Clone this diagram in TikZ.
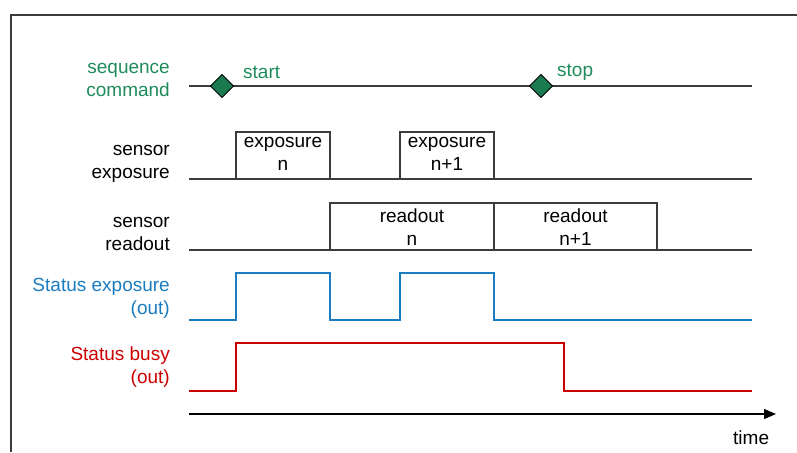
\documentclass[tikz,border=0pt]{standalone}
\usepackage{fontspec}
\setmainfont{Liberation Sans}
\usetikzlibrary{arrows.meta}
\definecolor{cmdgreen}{RGB}{30,140,90}
\definecolor{dmdgreen}{RGB}{26,122,80}
\definecolor{stblue}{RGB}{28,124,192}
\definecolor{stred}{RGB}{204,0,0}
\definecolor{lgray}{RGB}{60,60,60}
\tikzset{
  x=1pt,y=-1pt,
  every node/.style={font=\fontsize{19}{23}\selectfont},
  lab/.style={align=right,anchor=east,inner sep=0pt},
  tline/.style={draw=lgray,line width=1.1pt},
  sbox/.style={draw=lgray,line width=1.1pt,fill=white},
  btext/.style={align=center,anchor=north,inner sep=0pt},
  dmd/.style={draw=black,fill=dmdgreen,line width=0.8pt},
}
\begin{document}
\begin{tikzpicture}
\useasboundingbox (0,0) rectangle (797,452);
% frame
\draw[lgray,line width=1.2pt] (11,452) -- (11,15) -- (797,15);

% row labels
\node[lab,text=cmdgreen] (lseq) at (170,80) {sequence\\command};
\node[lab] (lexp) at (170,164) {sensor\\exposure};
\node[lab] (lrd) at (170,234) {sensor\\readout};
\node[lab,text=stblue] (lsx) at (170,298) {Status exposure\\(out)};
\node[lab,text=stred] (lsb) at (170,367) {Status busy\\(out)};

% sequence command
\coordinate (s0) at (189,86);
\coordinate (s1) at (752,86);
\draw[tline] (s0) -- (s1);
\path[dmd] (222,74.5) -- (233.5,86) -- (222,97.5) -- (210.5,86) -- cycle;
\path[dmd] (541,74.5) -- (552.5,86) -- (541,97.5) -- (529.5,86) -- cycle;
\node[text=cmdgreen,anchor=west,inner sep=0pt] (tstart) at (243,72) {start};
\node[text=cmdgreen,anchor=west,inner sep=0pt] (tstop) at (557,72) {stop};

% sensor exposure
\coordinate (e0) at (189,179);
\coordinate (e1) at (752,179);
\draw[tline] (e0) -- (e1);
\draw[sbox] (236,132) rectangle (330,179);
\draw[sbox] (400,132) rectangle (494,179);
\node[btext] (ex1) at (283,137.5) {exposure\\n};
\node[btext] (ex2) at (447,137.5) {exposure\\n+1};

% sensor readout
\coordinate (r0) at (189,250);
\coordinate (r1) at (752,250);
\draw[tline] (r0) -- (r1);
\draw[sbox] (330,203) rectangle (494,250);
\draw[sbox] (494,203) rectangle (657,250);
\node[btext] (rd1) at (412,208.5) {readout\\n};
\node[btext] (rd2) at (575.5,208.5) {readout\\n+1};

% status exposure
\draw[stblue,line width=1.3pt] (189,320) -- (236,320) -- (236,273) -- (330,273) -- (330,320)
  -- (400,320) -- (400,273) -- (494,273) -- (494,320) -- (752,320);

% status busy
\draw[stred,line width=1.3pt] (189,391) -- (236,391) -- (236,343) -- (564,343) -- (564,391) -- (752,391);

% time axis
\coordinate (t0) at (189,414);
\coordinate (t1) at (776,414);
\draw[black,line width=1.2pt,-{Triangle[length=12pt,width=10pt]}] (t0) -- (t1);
\node[anchor=west,inner sep=0pt] (ttime) at (733,438) {time};
\end{tikzpicture}
\end{document}
